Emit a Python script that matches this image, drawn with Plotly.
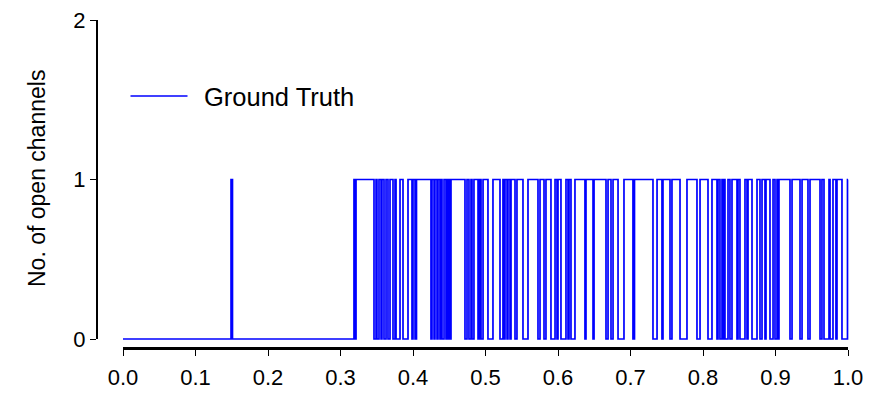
import plotly.graph_objects as go

# Channel state record: a brief opening near 0.15, then gating from ~0.32 onward.
spike_open = [0.149]
spike_close = [0.151]
burst_start = 0.3186
end_time = 1.0

# Closures (channel back to 0) during the gating period: start / end times
dip_start = [0.3200, 0.3462, 0.3503, 0.3559, 0.3600, 0.3655, 0.3724, 0.3766, 0.3862,
             0.3986, 0.4028, 0.4248, 0.4290, 0.4331, 0.4372, 0.4400, 0.4455, 0.4483,
             0.4510, 0.4717, 0.4772, 0.4814, 0.4897, 0.4938, 0.5034, 0.5200, 0.5255,
             0.5297, 0.5338, 0.5407, 0.5517, 0.5724, 0.5807, 0.5903, 0.5986, 0.6041,
             0.6138, 0.6179, 0.6372, 0.6483, 0.6662, 0.6731, 0.6828, 0.7034, 0.7310,
             0.7434, 0.7545, 0.7683, 0.7917, 0.8069, 0.8193, 0.8234, 0.8276, 0.8303,
             0.8372, 0.8469, 0.8510, 0.8607, 0.8676, 0.8786, 0.8855, 0.8924, 0.8993,
             0.9034, 0.9200, 0.9338, 0.9448, 0.9614, 0.9669, 0.9752, 0.9834, 0.9917]
dip_end = [0.3214, 0.3490, 0.3531, 0.3572, 0.3628, 0.3683, 0.3752, 0.3821, 0.3931,
           0.4000, 0.4048, 0.4262, 0.4303, 0.4345, 0.4386, 0.4428, 0.4469, 0.4497,
           0.4524, 0.4745, 0.4800, 0.4841, 0.4917, 0.4966, 0.5103, 0.5241, 0.5269,
           0.5310, 0.5352, 0.5434, 0.5586, 0.5752, 0.5834, 0.5959, 0.6000, 0.6110,
           0.6152, 0.6234, 0.6386, 0.6497, 0.6690, 0.6759, 0.6910, 0.7055, 0.7366,
           0.7448, 0.7572, 0.7779, 0.7959, 0.8124, 0.8207, 0.8262, 0.8290, 0.8345,
           0.8400, 0.8483, 0.8579, 0.8621, 0.8745, 0.8814, 0.8869, 0.8966, 0.9021,
           0.9048, 0.9228, 0.9366, 0.9476, 0.9641, 0.9738, 0.9793, 0.9848, 0.9993]

x_ticks = [0.0, 0.1, 0.2, 0.3, 0.4, 0.5, 0.6, 0.7, 0.8, 0.9, 1.0]
y_ticks = [0, 1, 2]

# Build the step series (time, number of open channels)
t = [0.0]
n_open = [0]
for a, b in zip(spike_open, spike_close):
    t += [a, b]
    n_open += [1, 0]
t.append(burst_start)
n_open.append(1)
for a, b in zip(dip_start, dip_end):
    t += [a, b]
    n_open += [0, 1]
t.append(end_time)
n_open.append(1)

W, H = 871, 394
FONT = "Arial, 'Liberation Sans', sans-serif"


def px_x(p):
    return p / W


def px_y(p):
    return (H - p) / H


fig = go.Figure()

# Data layer: slightly padded so the lines at 0, 1 and x=1 are not clipped
pad_x = 3 / 725
pad_y = 3 / 159.5
fig.add_trace(go.Scatter(
    x=t, y=n_open, mode="lines", line=dict(color="#0000ff", width=1.7, shape="hv"),
    name="Ground Truth", showlegend=False, xaxis="x", yaxis="y",
))
# Axis layer (offset spines)
fig.add_trace(go.Scatter(x=[], y=[], xaxis="x2", yaxis="y2", showlegend=False))

fig.update_layout(
    width=W, height=H,
    margin=dict(l=0, r=0, t=0, b=0),
    paper_bgcolor="white", plot_bgcolor="rgba(0,0,0,0)",
    font=dict(family=FONT, color="black"),
    xaxis=dict(domain=[px_x(120), px_x(851)], range=[-pad_x, 1 + pad_x],
               visible=False, fixedrange=True),
    yaxis=dict(domain=[px_y(342), px_y(17)], range=[-pad_y, 2 + pad_y],
               visible=False, fixedrange=True),
    xaxis2=dict(domain=[px_x(123), px_x(848)], range=[0, 1], anchor="free",
                position=px_y(348), showline=True, linewidth=3, linecolor="black",
                ticks="outside", ticklen=6, tickwidth=1.3, tickcolor="black",
                ticklabelstandoff=3,
                tickvals=x_ticks, ticktext=[f"{v:.1f}" for v in x_ticks],
                tickfont=dict(size=22, family=FONT, color="black"),
                showgrid=False, zeroline=False, automargin=False),
    yaxis2=dict(domain=[px_y(339), px_y(20)], range=[0, 2], anchor="free",
                position=px_x(97), showline=True, linewidth=2, linecolor="black",
                ticks="outside", ticklen=6, tickwidth=1.3, tickcolor="black",
                tickvals=y_ticks, ticktext=[str(v) for v in y_ticks],
                tickfont=dict(size=22, family=FONT, color="black"),
                showgrid=False, zeroline=False, automargin=False),
    annotations=[
        dict(text="No. of open channels", x=px_x(22), y=px_y(179), xref="paper",
             yref="paper", textangle=-90, showarrow=False,
             font=dict(size=23, family=FONT, color="black")),
        dict(text="Ground Truth", x=px_x(202), y=px_y(97), xref="paper", yref="paper",
             xanchor="left", yanchor="middle", showarrow=False,
             font=dict(size=25.5, family=FONT, color="black")),
    ],
    shapes=[
        dict(type="line", xref="paper", yref="paper", x0=px_x(130.5), x1=px_x(187.5),
             y0=px_y(96), y1=px_y(96), line=dict(color="#0000ff", width=1.6)),
    ],
)

fig.write_html("out.html")
